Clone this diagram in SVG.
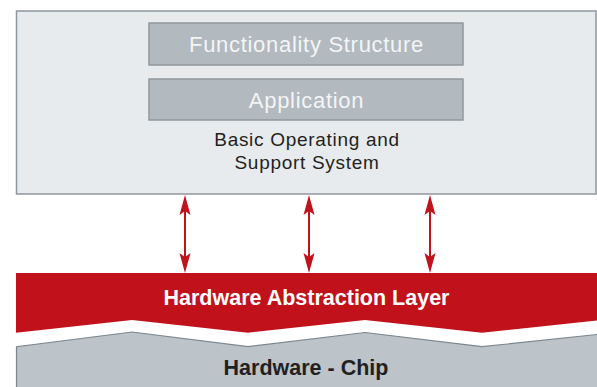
<svg xmlns="http://www.w3.org/2000/svg" width="597" height="387" viewBox="0 0 597 387">
  <style>
    .panel { fill: #e8ebee; stroke: #8e979d; stroke-width: 1.5; }
    .tier { fill: #b2b9bf; stroke: #8f989e; stroke-width: 1.5; }
    .tier-label { font-family: "Liberation Sans", Arial, sans-serif; font-size: 22px; fill: #f3f5f6; letter-spacing: 0.7px; text-anchor: middle; }
    .os-label { font-family: "Liberation Sans", Arial, sans-serif; font-size: 19px; fill: #231f20; letter-spacing: 0.7px; text-anchor: middle; }
    .band-label { font-family: "Liberation Sans", Arial, sans-serif; font-size: 21.5px; font-weight: bold; text-anchor: middle; }
  </style>
  <defs>
    <!-- double-headed link, drawn at x=0 and placed with <use> -->
    <g id="dbl-arrow" fill="#c1121c" stroke="none">
      <line x1="0" y1="200" x2="0" y2="268" stroke="#c1121c" stroke-width="2"/>
      <path d="M0,195 L5.5,215 L0,211 L-5.5,215 Z"/>
      <path d="M0,273 L5.5,253 L0,257 L-5.5,253 Z"/>
    </g>
  </defs>

  <!-- software stack panel -->
  <g id="software-stack">
    <rect class="panel" x="16.5" y="11" width="579.5" height="183"/>
    <text class="os-label" x="307" y="146">Basic Operating and</text>
    <text class="os-label" x="307" y="169">Support System</text>
  </g>
  <g id="functionality-structure">
    <rect class="tier" x="149" y="23" width="314" height="42"/>
    <text class="tier-label" x="306.5" y="52">Functionality Structure</text>
  </g>
  <g id="application">
    <rect class="tier" x="149" y="79" width="314" height="41"/>
    <text class="tier-label" x="306.5" y="107.5">Application</text>
  </g>

  <!-- hardware abstraction layer band -->
  <g id="hal">
    <polygon fill="#c1121c" points="16,273 597,273 597,320.5 482,332.7 365,320 248,332.7 132,320 16,332.7"/>
    <text class="band-label" x="306.5" y="305" fill="#ffffff">Hardware Abstraction Layer</text>
  </g>

  <!-- chip band -->
  <g id="hardware-chip">
    <polygon fill="#bcc3c9" stroke="#7b868e" stroke-width="1.2" points="16.5,390 16.5,346.7 132,332 248,346.7 365,332.5 482,346.7 599,334.3 599,390"/>
    <text class="band-label" x="306" y="375" fill="#231f20">Hardware - Chip</text>
  </g>

  <!-- bidirectional links between stack and HAL -->
  <g id="connectors">
    <use href="#dbl-arrow" x="185"/>
    <use href="#dbl-arrow" x="309"/>
    <use href="#dbl-arrow" x="430"/>
  </g>
</svg>
